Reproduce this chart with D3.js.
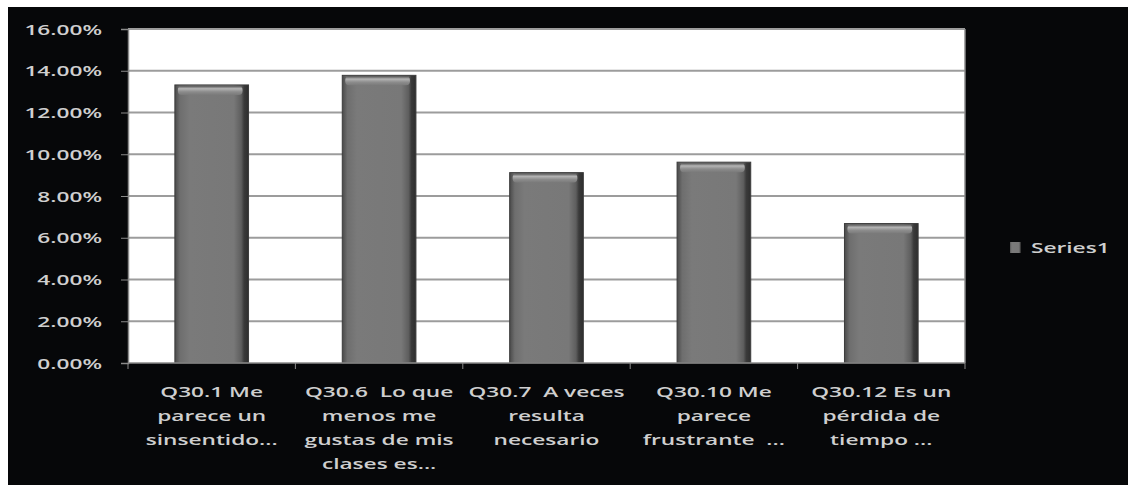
<!DOCTYPE html>
<html><head><meta charset="utf-8">
<script src="https://cdn.jsdelivr.net/npm/d3@7"></script>
<style>
html,body{margin:0;padding:0;background:#fff;}
svg{display:block;}
text{font-family:"Open Sans","Noto Sans",sans-serif;font-weight:600;fill:#cfcfcf;white-space:pre;}
</style></head>
<body>
<svg id="chart" width="1128" height="485"></svg>
<script>
const categories = [
  ["Q30.1 Me","parece un","sinsentido..."],
  ["Q30.6  Lo que","menos me","gustas de mis","clases es..."],
  ["Q30.7  A veces","resulta","necesario"],
  ["Q30.10 Me","parece","frustrante  ..."],
  ["Q30.12 Es un","pérdida de","tiempo ..."]
];
const values = [0.1332, 0.1378, 0.0912, 0.0962, 0.0668];
const yTicks = [0, 0.02, 0.04, 0.06, 0.08, 0.10, 0.12, 0.14, 0.16];
const seriesName = "Series1";

const svg = d3.select("#chart");
const W = 1128, H = 485;
const plot = {left:128, top:29, right:965, bottom:363};
const SX = 1.62; // horizontal text stretch of the original

svg.append("rect").attr("x",8).attr("y",7).attr("width",W-8).attr("height",H-7).attr("fill","#060709");

const defs = svg.append("defs");
const g1 = defs.append("linearGradient").attr("id","barH").attr("x1","0").attr("x2","1").attr("y1","0").attr("y2","0");
[[0,"#4a4a4a"],[0.07,"#6e6e6e"],[0.2,"#7a7a7a"],[0.8,"#787878"],[0.9,"#5e5e5e"],[0.94,"#3a3a3a"],[1,"#2e2e2e"]]
  .forEach(([o,c])=>g1.append("stop").attr("offset",o).attr("stop-color",c));
const g2 = defs.append("linearGradient").attr("id","barTop").attr("x1","0").attr("x2","0").attr("y1","0").attr("y2","1");
[[0,"#555"],[0.3,"#b4b4b4"],[0.65,"#8c8c8c"],[1,"#7a7a7a"]]
  .forEach(([o,c])=>g2.append("stop").attr("offset",o).attr("stop-color",c));

const x = d3.scaleBand().domain(d3.range(categories.length)).range([plot.left, plot.right]).padding(0);
const y = d3.scaleLinear().domain([0,0.16]).range([plot.bottom, plot.top]);

// plot area
svg.append("rect").attr("x",plot.left).attr("y",plot.top).attr("width",plot.right-plot.left).attr("height",plot.bottom-plot.top).attr("fill","#ffffff");

// gridlines
svg.append("g").selectAll("line").data(yTicks.filter(d=>d>0)).join("line")
  .attr("x1",plot.left).attr("x2",plot.right)
  .attr("y1",d=>y(d)).attr("y2",d=>y(d))
  .attr("stroke","#9c9c9c").attr("stroke-width",1.8);

// right border
svg.append("line").attr("x1",plot.right).attr("x2",plot.right).attr("y1",plot.top).attr("y2",plot.bottom)
  .attr("stroke","#8a8a8a").attr("stroke-width",1.5);

// bars
const bw = x.bandwidth()*0.44;
const bars = svg.append("g").selectAll("g").data(values).join("g")
  .attr("transform",(d,i)=>`translate(${x(i)+x.bandwidth()/2-bw/2},0)`);
bars.append("rect").attr("x",0).attr("width",bw)
  .attr("y",d=>y(d)).attr("height",d=>plot.bottom-y(d))
  .attr("fill","url(#barH)");
bars.append("rect").attr("x",3).attr("width",bw-9)
  .attr("y",d=>y(d)+1).attr("height",9).attr("rx",4)
  .attr("fill","url(#barTop)");
bars.append("rect").attr("x",0).attr("width",bw)
  .attr("y",d=>y(d)).attr("height",d=>plot.bottom-y(d))
  .attr("fill","none").attr("stroke","#3c3c3c").attr("stroke-width",1);

// y axis
const yAxis = svg.append("g").attr("transform",`translate(${plot.left},0)`)
  .call(d3.axisLeft(y).tickValues(yTicks).tickSize(7).tickFormat(d3.format(".2%")));
yAxis.select(".domain").attr("stroke","#8a8a8a").attr("stroke-width",1.5);
yAxis.selectAll(".tick line").attr("stroke","#8a8a8a");
yAxis.selectAll(".tick text").remove();
yAxis.selectAll(".tick").append("text")
  .attr("text-anchor","end")
  .attr("transform",`translate(-26,5) scale(${SX},1)`)
  .style("font-size","14px").attr("fill",null)
  .text(d=>d3.format(".2%")(d));

// x axis
const xAxis = svg.append("g").attr("transform",`translate(0,${plot.bottom})`);
xAxis.append("line").attr("x1",plot.left).attr("x2",plot.right).attr("y1",0).attr("y2",0)
  .attr("stroke","#8a8a8a").attr("stroke-width",1.5);
const bounds = d3.range(categories.length+1).map(i=> i<categories.length ? x(i) : plot.right);
xAxis.selectAll("line.tk").data(bounds).join("line").attr("class","tk")
  .attr("x1",d=>d).attr("x2",d=>d).attr("y1",0).attr("y2",6)
  .attr("stroke","#8a8a8a").attr("stroke-width",1);

const lab = xAxis.selectAll("g.lab").data(categories).join("g").attr("class","lab")
  .attr("transform",(d,i)=>`translate(${x(i)+x.bandwidth()/2},0)`);
lab.selectAll("text").data(d=>d).join("text")
  .attr("text-anchor","middle")
  .attr("transform",(d,j)=>`translate(0,${34+j*24}) scale(${SX},1)`)
  .style("font-size","14px")
  .text(d=>d);

// legend
const leg = svg.append("g").attr("transform","translate(1010,242)");
leg.append("rect").attr("width",11).attr("height",11).attr("fill","url(#barH)");
leg.append("text").attr("transform",`translate(21,11) scale(${SX},1)`).style("font-size","14px").text(seriesName);
</script>
</body></html>
